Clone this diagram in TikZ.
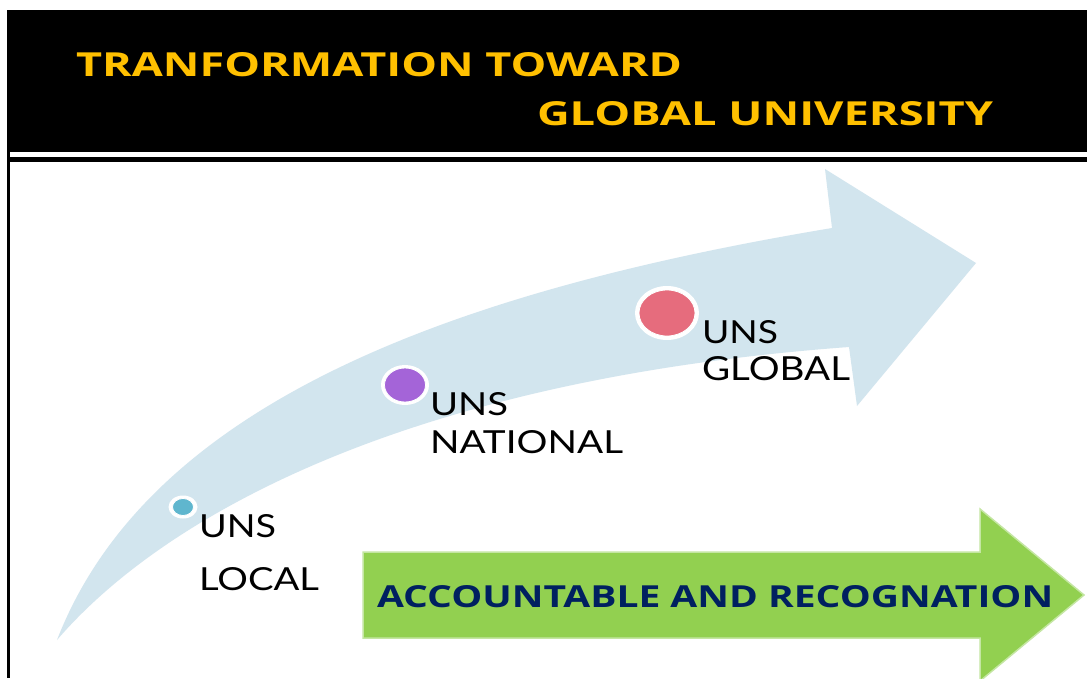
\documentclass[tikz,border=0pt]{standalone}
\usepackage{fontspec}
\usepackage{graphicx}
\usetikzlibrary{shapes.geometric}
\newfontfamily\cfont{Open Sans}
\newfontfamily\lfont{Lato}
\definecolor{gold}{HTML}{FFC000}
\definecolor{navy}{HTML}{002060}
\definecolor{band}{HTML}{D2E5EE}
\definecolor{grn}{HTML}{92D050}
\definecolor{grnedge}{HTML}{C4E6A2}
\definecolor{dotA}{HTML}{5FB6CE}
\definecolor{dotB}{HTML}{A464D8}
\definecolor{dotC}{HTML}{E66C7D}
\newcommand{\fitbox}[3]{\resizebox{#1pt}{#2pt}{#3}}
\tikzset{
  txt/.style={anchor=base west, inner sep=0pt, outer sep=0pt},
  halo/.style={ellipse, fill=white, inner sep=0pt, draw=none},
  dot/.style={ellipse, inner sep=0pt, draw=white, line width=0.8pt},
}
\begin{document}
\begin{tikzpicture}[x=1pt,y=-1pt]
\useasboundingbox (0,0) rectangle (1087,678);
\fill[white] (0,0) rectangle (1087,678);
% header
\fill[black] (7,10) rectangle (1087,162);
\fill[white] (10,152) rectangle (1087,157);
\fill[black] (7,162) rectangle (10,678);
\node[txt, text=gold] (t1) at (76,76) {\fitbox{606}{24}{\cfont\bfseries TRANFORMATION TOWARD}};
\node[txt, text=gold] (t2) at (537,125) {\fitbox{456}{24}{\cfont\bfseries GLOBAL UNIVERSITY}};
% curved arrow
\fill[band] (57,640) .. controls (150,400) and (460,290) .. (832,228)
  -- (825,169) -- (976,263) -- (857,406) -- (849,347)
  .. controls (400,380) and (160,520) .. (57,640) -- cycle;
% dots
\node[halo, minimum width=29pt, minimum height=23pt] (hA) at (183,507) {};
\node[dot, fill=dotA, minimum width=21pt, minimum height=17pt] (dA) at (183,507) {};
\node[halo, minimum width=48pt, minimum height=40pt] (hB) at (405,385) {};
\node[dot, fill=dotB, minimum width=41pt, minimum height=34pt] (dB) at (405,385) {};
\node[halo, minimum width=64pt, minimum height=54pt] (hC) at (667,313) {};
\node[dot, fill=dotC, minimum width=56pt, minimum height=46pt] (dC) at (667,313) {};
% labels
\node[txt] (l1) at (199,537) {\fitbox{77}{23}{\lfont UNS}};
\node[txt] (l2) at (199,590) {\fitbox{120}{23}{\lfont LOCAL}};
\node[txt] (n1) at (430,415) {\fitbox{78}{23}{\lfont UNS}};
\node[txt] (n2) at (430,453) {\fitbox{193}{23}{\lfont NATIONAL}};
\node[txt] (g1) at (702,343) {\fitbox{76}{23}{\lfont UNS}};
\node[txt] (g2) at (702,380) {\fitbox{148}{24}{\lfont GLOBAL}};
% green arrow
\filldraw[fill=grn, draw=grnedge, line width=1.5pt] (363,552) -- (980,552) -- (980,509) -- (1084,595)
  -- (980,681) -- (980,638) -- (363,638) -- cycle;
\node[txt, text=navy] (acc) at (377,607) {\fitbox{676}{22}{\cfont\bfseries ACCOUNTABLE AND RECOGNATION}};
\end{tikzpicture}
\end{document}
